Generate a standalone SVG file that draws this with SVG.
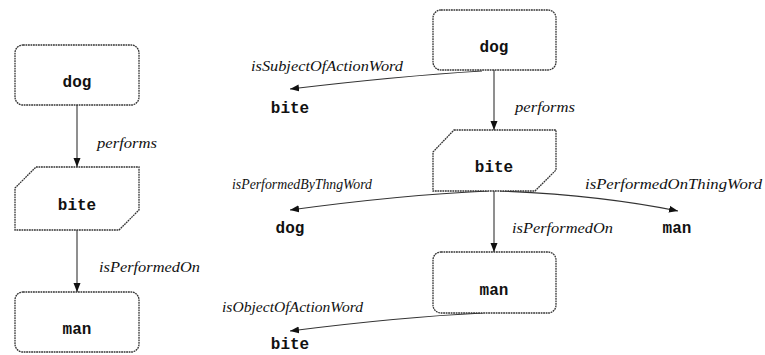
<svg xmlns="http://www.w3.org/2000/svg" width="765" height="355" viewBox="0 0 765 355">
<style>
.box{fill:#fff;stroke:#333;stroke-width:1.3;stroke-dasharray:1.8 0.7}
.nt{font-family:"Liberation Mono","DejaVu Sans Mono",monospace;font-weight:bold;font-size:16px;fill:#111;text-anchor:middle}
.lb{font-family:"Liberation Serif","DejaVu Serif",serif;font-style:italic;font-size:14px;fill:#111}
.e{fill:none;stroke:#333;stroke-width:1.1}
</style>
<defs>
<marker id="ah" markerUnits="userSpaceOnUse" markerWidth="10" markerHeight="8" refX="9" refY="4" orient="auto">
<path d="M0,0.5 L9,4 L0,7.5 Z" fill="#111"/>
</marker>
</defs>
<rect width="765" height="355" fill="#fff"/>
<g id="connectors">
<path class="e" d="M77,105 V167" marker-end="url(#ah)"/>
<path class="e" d="M77,230 V292" marker-end="url(#ah)"/>
<path class="e" d="M494,70 V130" marker-end="url(#ah)"/>
<path class="e" d="M494,191 V252" marker-end="url(#ah)"/>
<path class="e" d="M482,71 Q400,76 290,89" marker-end="url(#ah)"/>
<path class="e" d="M488,191 Q400,195 290,210" marker-end="url(#ah)"/>
<path class="e" d="M500,191 Q600,195 678,211" marker-end="url(#ah)"/>
<path class="e" d="M483,313 Q400,317 290,331" marker-end="url(#ah)"/>
<text class="lb" x="97" y="148" textLength="60" lengthAdjust="spacingAndGlyphs">performs</text>
<text class="lb" x="99" y="272" textLength="101" lengthAdjust="spacingAndGlyphs">isPerformedOn</text>
<text class="lb" x="515" y="112" textLength="60" lengthAdjust="spacingAndGlyphs">performs</text>
<text class="lb" x="512" y="233" textLength="101" lengthAdjust="spacingAndGlyphs">isPerformedOn</text>
<text class="lb" x="251" y="71" textLength="152" lengthAdjust="spacingAndGlyphs">isSubjectOfActionWord</text>
<text class="lb" x="232" y="189" textLength="140" lengthAdjust="spacingAndGlyphs">isPerformedByThngWord</text>
<text class="lb" x="585" y="189" textLength="177" lengthAdjust="spacingAndGlyphs">isPerformedOnThingWord</text>
<text class="lb" x="222" y="312" textLength="141" lengthAdjust="spacingAndGlyphs">isObjectOfActionWord</text>
</g>
<g id="left-dog"><rect class="box" x="15" y="45" width="124" height="60" rx="8"/><text class="nt" x="77" y="87">dog</text></g>
<g id="left-bite"><path class="box" d="M36,167 H139 V210 L119,230 H15 V188 Z"/><text class="nt" x="77" y="210">bite</text></g>
<g id="left-man"><rect class="box" x="15" y="292" width="124" height="60" rx="8"/><text class="nt" x="77" y="334">man</text></g>
<g id="right-dog"><rect class="box" x="433" y="10" width="123" height="60" rx="8"/><text class="nt" x="494" y="52">dog</text></g>
<g id="right-bite"><path class="box" d="M454,130 H556 V170 L535,191 H433 V152 Z"/><text class="nt" x="494" y="172">bite</text></g>
<g id="right-man"><rect class="box" x="433" y="252" width="123" height="61" rx="8"/><text class="nt" x="494" y="295">man</text></g>
<g id="value-bite-1"><text class="nt" x="290" y="113">bite</text></g>
<g id="value-dog"><text class="nt" x="290" y="233">dog</text></g>
<g id="value-man"><text class="nt" x="677" y="233">man</text></g>
<g id="value-bite-2"><text class="nt" x="290" y="349">bite</text></g>
</svg>
